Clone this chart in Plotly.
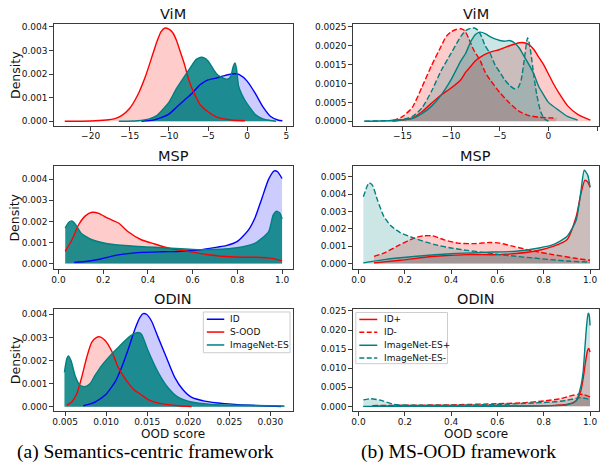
import plotly.graph_objects as go

# ---------------- data ----------------
# (a) Semantics-centric framework
vim_id_x = [-13.5, -12, -11, -10, -9, -8, -7, -6, -5, -4, -3, -2, -1.5, -1, 0, 1, 2, 3, 4, 4.5]
vim_id_y = [0, 0.00005, 0.00015, 0.0003, 0.0006, 0.0009, 0.0012, 0.00155, 0.00175, 0.00183, 0.00192,
            0.002, 0.00201, 0.00197, 0.0017, 0.0012, 0.00062, 0.0002, 0.00004, 0.00002]
vim_sood_x = [-23.3, -20, -18, -17, -16, -15, -14, -13, -12, -11.5, -11, -10.5, -10, -9.5, -9, -8.5, -8,
              -7.5, -7, -6.5, -6, -5, -4, -3, -2, -1, -0.3]
vim_sood_y = [0, 0.00001, 0.00005, 0.0001, 0.00025, 0.00055, 0.0011, 0.0019, 0.0029, 0.0034, 0.0038,
              0.00395, 0.0039, 0.00375, 0.0034, 0.0029, 0.0024, 0.0018, 0.00135, 0.001, 0.0007, 0.0004,
              0.0002, 0.0001, 0.00005, 0.00003, 0.00002]
vim_es_x = [-16.4, -14, -12.5, -11.5, -10.5, -10, -9, -8, -7, -6.5, -6, -5.8, -5.5, -5, -4.5, -4, -3.5,
            -3, -2.5, -2.1, -1.8, -1.55, -1.35, -1.1, -0.7, -0.3, 0.3, 1, 2, 3, 3.7]
vim_es_y = [0, 0.00002, 0.0001, 0.00025, 0.0006, 0.0008, 0.0014, 0.0019, 0.0024, 0.00262, 0.0027,
            0.00271, 0.00268, 0.00255, 0.0023, 0.00205, 0.0019, 0.00182, 0.00178, 0.0019, 0.0023,
            0.00247, 0.0022, 0.0015, 0.00115, 0.0009, 0.0006, 0.0003, 0.0001, 0.00003, 0]

msp_id_x = [0.07, 0.13, 0.19, 0.25, 0.31, 0.37, 0.46, 0.55, 0.64, 0.71, 0.75, 0.8, 0.85, 0.88, 0.91,
            0.94, 0.965, 0.98, 1.0]
msp_id_y = [0.00006, 0.00011, 0.00022, 0.00038, 0.00047, 0.00053, 0.00056, 0.00058, 0.00066, 0.00078,
            0.00085, 0.00105, 0.0016, 0.0022, 0.0031, 0.004, 0.00439, 0.00435, 0.00403]
msp_sood_x = [0.03, 0.06, 0.09, 0.12, 0.15, 0.18, 0.22, 0.27, 0.31, 0.37, 0.43, 0.49, 0.58, 0.67, 0.79,
              0.88, 0.94, 1.0]
msp_sood_y = [0.00058, 0.00113, 0.00184, 0.00226, 0.00243, 0.00238, 0.00215, 0.00191, 0.00152, 0.00113,
              0.00093, 0.00074, 0.00058, 0.00042, 0.00031, 0.0003, 0.00027, 0.00014]
msp_es_x = [0.03, 0.045, 0.06, 0.08, 0.1, 0.15, 0.22, 0.34, 0.49, 0.64, 0.79, 0.88, 0.94, 0.96, 0.975,
            0.99, 1.0]
msp_es_y = [0.00168, 0.00195, 0.00202, 0.0018, 0.00145, 0.00113, 0.00094, 0.00082, 0.00074, 0.00066,
            0.00074, 0.00097, 0.00152, 0.0023, 0.00248, 0.0024, 0.00212]

odin_id_x = [0.00722, 0.00864, 0.00985, 0.01107, 0.01188, 0.01269, 0.0135, 0.0141, 0.01451, 0.01491,
             0.01552, 0.01633, 0.01734, 0.01835, 0.01936, 0.02037, 0.02199, 0.02442, 0.02765, 0.0313]
odin_id_y = [0.00004, 0.0002, 0.00049, 0.00106, 0.0017, 0.00249, 0.00335, 0.00385, 0.00403, 0.004,
             0.00371, 0.003, 0.00213, 0.00127, 0.00073, 0.00041, 0.00024, 0.00013, 0.00006, 0.00001]
odin_sood_x = [0.0052, 0.00581, 0.00642, 0.00702, 0.00763, 0.00824, 0.00884, 0.00925, 0.00985, 0.01066,
               0.01147, 0.01248, 0.0135, 0.0141, 0.01511, 0.01673, 0.01875, 0.0204]
odin_sood_y = [0.00006, 0.0002, 0.00056, 0.00127, 0.00213, 0.00278, 0.003, 0.00302, 0.00288, 0.00242,
               0.0017, 0.00113, 0.0007, 0.00056, 0.00031, 0.00013, 0.00004, 0.00001]
odin_es_x = [0.00492, 0.0052, 0.0054, 0.00573, 0.00621, 0.00682, 0.00743, 0.00803, 0.00864, 0.00945,
             0.01046, 0.01147, 0.01248, 0.01329, 0.0139, 0.0143, 0.01511, 0.01633, 0.01754, 0.01875,
             0.02037, 0.0228, 0.02604, 0.0317]
odin_es_y = [0.00149, 0.00206, 0.0022, 0.00199, 0.00135, 0.00092, 0.00087, 0.00099, 0.00135, 0.00178,
             0.0022, 0.00256, 0.00292, 0.00314, 0.00321, 0.00314, 0.00242, 0.00149, 0.00082, 0.00041,
             0.0002, 0.0001, 0.00006, 0.00003]

# (b) MS-OOD framework
ms_vim_idp_x = [-16, -14, -13, -12, -11, -10, -9, -8.5, -8, -7.5, -7, -6, -5, -4, -3, -2.5, -2, -1.5, -1,
                -0.5, 0, 0.5, 1, 2, 3, 4, 4.3]
ms_vim_idp_y = [0, 0.00008, 0.00025, 0.00048, 0.0007, 0.00088, 0.0011, 0.0013, 0.00145, 0.0016, 0.0017,
                0.00183, 0.0019, 0.002, 0.00208, 0.00208, 0.00203, 0.0019, 0.0017, 0.0015, 0.00125, 0.001,
                0.00078, 0.0004, 0.00018, 0.00006, 0.00003]
ms_vim_idm_x = [-16, -15, -14, -13, -12, -11, -10.5, -10, -9.5, -9, -8.6, -8.2, -7.7, -7, -6.5, -6, -5,
                -4, -3, -2, -1, 0, 0.8]
ms_vim_idm_y = [0.00002, 0.00012, 0.00036, 0.0009, 0.00148, 0.002, 0.00225, 0.00237, 0.00243, 0.00245,
                0.0024, 0.0022, 0.0019, 0.0016, 0.0013, 0.0011, 0.00076, 0.00048, 0.00026, 0.00015,
                0.00011, 0.00009, 0.00008]
ms_vim_esp_x = [-18.9, -16, -14, -13, -12, -11, -10, -9, -8.5, -8, -7.5, -7, -6.5, -6, -5.5, -5, -4.5, -4,
                -3.5, -3, -2.5, -2, -1.5, -1, -0.5, 0, 1, 2, 3]
ms_vim_esp_y = [0, 0.00002, 0.00007, 0.0002, 0.0004, 0.0007, 0.0011, 0.0016, 0.0018, 0.0021, 0.0023,
                0.00236, 0.00232, 0.00224, 0.00218, 0.00214, 0.00212, 0.00214, 0.00208, 0.00194, 0.00172,
                0.0015, 0.00125, 0.00092, 0.0007, 0.0005, 0.0003, 0.00012, 0.00003]
ms_vim_esm_x = [-18.9, -16, -15, -14, -13, -12, -11, -10, -9, -8.5, -8, -7.6, -7.2, -6.8, -6.5, -6, -5.5,
                -5, -4.5, -4, -3.5, -3.1, -2.8, -2.5, -2.3, -2.15, -2.0, -1.8, -1.5, -1.2, -0.8, -0.4, 0]
ms_vim_esm_y = [0, 0.00002, 0.00005, 0.00012, 0.00035, 0.0008, 0.00135, 0.0018, 0.00225, 0.0024, 0.00246,
                0.00247, 0.0024, 0.0022, 0.002, 0.0018, 0.0015, 0.0013, 0.0011, 0.00095, 0.00086, 0.0009,
                0.0011, 0.0016, 0.002, 0.00221, 0.0021, 0.0018, 0.0012, 0.0007, 0.00025, 0.00006, 0]

ms_msp_idp_x = [0.067, 0.18, 0.33, 0.47, 0.61, 0.76, 0.84, 0.9, 0.94, 0.96, 0.978, 0.99, 1.0]
ms_msp_idp_y = [0.00004, 0.00019, 0.00042, 0.00052, 0.00052, 0.00071, 0.00099, 0.00137, 0.0027, 0.004,
                0.00481, 0.0047, 0.0044]
ms_msp_idm_x = [0.067, 0.11, 0.18, 0.24, 0.28, 0.32, 0.37, 0.43, 0.5, 0.57, 0.61, 0.67, 0.76, 0.84,
                0.93, 1.0]
ms_msp_idm_y = [0.00042, 0.00061, 0.00109, 0.00147, 0.0016, 0.0016, 0.00137, 0.00118, 0.00115, 0.00122,
                0.00118, 0.00099, 0.00071, 0.00052, 0.00032, 0.00019]
ms_msp_esp_x = [0.021, 0.11, 0.25, 0.4, 0.54, 0.68, 0.78, 0.84, 0.9, 0.94, 0.96, 0.975, 0.99, 1.0]
ms_msp_esp_y = [0.00004, 0.00023, 0.00042, 0.00057, 0.00065, 0.00071, 0.0009, 0.00109, 0.00156, 0.0025,
                0.0041, 0.00538, 0.0051, 0.0044]
ms_msp_esm_x = [0.021, 0.039, 0.046, 0.06, 0.082, 0.11, 0.14, 0.18, 0.24, 0.33, 0.4, 0.47, 0.54, 0.61,
                0.68, 0.76, 0.83, 0.9, 1.0]
ms_msp_esm_y = [0.00385, 0.00452, 0.00466, 0.00452, 0.00366, 0.00271, 0.00218, 0.00179, 0.00147,
                0.00109, 0.0009, 0.00076, 0.00065, 0.00052, 0.00042, 0.00032, 0.00023, 0.00015, 0.00008]

ms_odin_idp_x = [0.06, 0.3, 0.6, 0.83, 0.9, 0.94, 0.96, 0.97, 0.98, 0.99, 0.995, 1.0]
ms_odin_idp_y = [0.00002, 0.00003, 0.00008, 0.0002, 0.0005, 0.0015, 0.004, 0.0072, 0.0115, 0.0148,
                 0.0152, 0.0142]
ms_odin_idm_x = [0.06, 0.2, 0.4, 0.6, 0.7, 0.8, 0.87, 0.92, 0.95, 0.97, 1.0]
ms_odin_idm_y = [0.0002, 0.0003, 0.0004, 0.0007, 0.0009, 0.0014, 0.002, 0.0028, 0.0032, 0.0031, 0.0025]
ms_odin_esp_x = [0.02, 0.3, 0.6, 0.85, 0.9, 0.94, 0.96, 0.97, 0.978, 0.985, 0.992, 0.996, 1.0]
ms_odin_esp_y = [0.00001, 0.00002, 0.00005, 0.0002, 0.0004, 0.0015, 0.0052, 0.009, 0.0155, 0.021,
                 0.0244, 0.024, 0.0212]
ms_odin_esm_x = [0.021, 0.053, 0.096, 0.153, 0.225, 0.4, 0.6, 0.756, 0.85, 0.9, 0.957, 0.98, 1.0]
ms_odin_esm_y = [0.0017, 0.002, 0.0016, 0.0005, 0.0003, 0.0003, 0.0005, 0.0009, 0.0012, 0.0016, 0.0023,
                 0.0021, 0.0018]

titles = ["ViM", "MSP", "ODIN"]
legend_a = ["ID", "S-OOD", "ImageNet-ES"]
legend_b = ["ID+", "ID-", "ImageNet-ES+", "ImageNet-ES-"]
captions = ["(a) Semantics-centric framework", "(b) MS-OOD framework"]

# ---------------- styling / geometry ----------------
W, H = 600, 463
RED, BLUE, TEAL = "#ff0000", "#0000ff", "#008080"
F_RED, F_BLUE, F_TEAL = "rgba(255,0,0,0.2)", "rgba(0,0,255,0.2)", "rgba(0,128,128,0.2)"
F_TEAL_SOLID = "rgba(0,128,128,0.86)"
FONT = "DejaVu Sans"
DASH = "5.5px,2.4px"

cols = [(52, 292), (352, 599)]
rows = [(21, 124), (164, 268), (308, 411)]

def dom_x(c):
    return [cols[c][0] / W, cols[c][1] / W]

def dom_y(r):
    return [1 - rows[r][1] / H, 1 - rows[r][0] / H]

panels = [
    # (row, col, xrange, yrange, xticks, xfmt, yticks, yfmt, series)
    (0, 0, [-24.7, 5.86], [-0.00021, 0.004126], [-20, -15, -10, -5, 0, 5], None,
     [0, 0.001, 0.002, 0.003, 0.004], ".3f",
     [(vim_id_x, vim_id_y, BLUE, F_BLUE, None), (vim_sood_x, vim_sood_y, RED, F_RED, None),
      (vim_es_x, vim_es_y, TEAL, F_TEAL_SOLID, None)]),
    (0, 1, [-20.09, 5.188], [-0.000132, 0.00258], [-15, -10, -5, 0, 5], None,
     [0, 0.0005, 0.001, 0.0015, 0.002, 0.0025], ".4f",
     [(ms_vim_idp_x, ms_vim_idp_y, RED, F_RED, None), (ms_vim_idm_x, ms_vim_idm_y, RED, F_RED, DASH),
      (ms_vim_esp_x, ms_vim_esp_y, TEAL, F_TEAL, None), (ms_vim_esm_x, ms_vim_esm_y, TEAL, F_TEAL, DASH)]),
    (1, 0, [-0.021, 1.049], [-0.000268, 0.004626], [0, 0.2, 0.4, 0.6, 0.8, 1.0], ".1f",
     [0, 0.001, 0.002, 0.003, 0.004], ".3f",
     [(msp_id_x, msp_id_y, BLUE, F_BLUE, None), (msp_sood_x, msp_sood_y, RED, F_RED, None),
      (msp_es_x, msp_es_y, TEAL, F_TEAL_SOLID, None)]),
    (1, 1, [-0.0245, 1.0387], [-0.000326, 0.00563], [0, 0.2, 0.4, 0.6, 0.8, 1.0], ".1f",
     [0, 0.001, 0.002, 0.003, 0.004, 0.005], ".3f",
     [(ms_msp_idp_x, ms_msp_idp_y, RED, F_RED, None), (ms_msp_idm_x, ms_msp_idm_y, RED, F_RED, DASH),
      (ms_msp_esp_x, ms_msp_esp_y, TEAL, F_TEAL, None), (ms_msp_esm_x, ms_msp_esm_y, TEAL, F_TEAL, DASH)]),
    (2, 0, [0.003629, 0.032755], [-0.000202, 0.004228], [0.005, 0.01, 0.015, 0.02, 0.025, 0.03], ".3f",
     [0, 0.001, 0.002, 0.003, 0.004], ".3f",
     [(odin_id_x, odin_id_y, BLUE, F_BLUE, None), (odin_sood_x, odin_sood_y, RED, F_RED, None),
      (odin_es_x, odin_es_y, TEAL, F_TEAL_SOLID, None)]),
    (2, 1, [-0.0245, 1.0387], [-0.0013, 0.02552], [0, 0.2, 0.4, 0.6, 0.8, 1.0], ".1f",
     [0, 0.005, 0.01, 0.015, 0.02, 0.025], ".3f",
     [(ms_odin_idp_x, ms_odin_idp_y, RED, F_RED, None), (ms_odin_idm_x, ms_odin_idm_y, RED, F_RED, DASH),
      (ms_odin_esp_x, ms_odin_esp_y, TEAL, F_TEAL, None), (ms_odin_esm_x, ms_odin_esm_y, TEAL, F_TEAL, DASH)]),
]

fig = go.Figure()
layout = {}
annotations = []
shapes = []

for i, (r, c, xr, yr, xt, xf, yt, yf, series) in enumerate(panels):
    n = i + 1
    xa = "x" if n == 1 else f"x{n}"
    ya = "y" if n == 1 else f"y{n}"
    axis_common = dict(showgrid=False, zeroline=False, showline=True, mirror=True,
                       linecolor="#3a3a3a", linewidth=1, ticks="outside", ticklen=3.5,
                       tickwidth=0.8, tickcolor="#3a3a3a",
                       tickfont=dict(family=FONT, size=9, color="#111"))
    layout["xaxis" if n == 1 else f"xaxis{n}"] = dict(
        axis_common, domain=dom_x(c), range=xr, anchor=ya, tickmode="array", tickvals=xt,
        ticklabelstandoff=-2, **({"tickformat": xf} if xf else {}))
    layout["yaxis" if n == 1 else f"yaxis{n}"] = dict(
        axis_common, domain=dom_y(r), range=yr, anchor=xa, tickmode="array", tickvals=yt,
        tickformat=yf)
    # fills first
    for (sx, sy, lc, fc, dash) in series:
        fig.add_trace(go.Scatter(x=sx, y=sy, xaxis=xa, yaxis=ya, mode="lines",
                                 line=dict(width=0, color=lc, shape="spline", smoothing=0.6),
                                 fill="tozeroy", fillcolor=fc, showlegend=False, hoverinfo="skip"))
    # lines on top
    for (sx, sy, lc, fc, dash) in series:
        fig.add_trace(go.Scatter(x=sx, y=sy, xaxis=xa, yaxis=ya, mode="lines",
                                 line=dict(width=1.4, color=lc, dash=dash if dash else "solid",
                                           shape="spline", smoothing=0.6),
                                 showlegend=False))
    # panel title
    cx = (cols[c][0] + cols[c][1]) / 2 / W
    annotations.append(dict(text=titles[r], x=cx, y=1 - (rows[r][0] - 10) / H, xref="paper", yref="paper",
                            xanchor="center", yanchor="middle", showarrow=False,
                            font=dict(family=FONT, size=14.5, color="#111")))
    if c == 0:
        annotations.append(dict(text="Density", x=13 / W, y=1 - (rows[r][0] + rows[r][1]) / 2 / H,
                                xref="paper", yref="paper", xanchor="center", yanchor="middle",
                                textangle=-90, showarrow=False,
                                font=dict(family=FONT, size=12.5, color="#111")))
    if r == 2:
        annotations.append(dict(text="OOD score", x=cx, y=1 - 433.8 / H, xref="paper", yref="paper",
                                xanchor="center", yanchor="middle", showarrow=False,
                                font=dict(family=FONT, size=12, color="#111")))

# captions
annotations.append(dict(text=captions[0], x=144 / W, y=1 - 452 / H, xref="paper", yref="paper",
                        xanchor="center", yanchor="middle", showarrow=False,
                        font=dict(family="Liberation Serif", size=19.5, color="#000")))
annotations.append(dict(text=captions[1], x=458 / W, y=1 - 452 / H, xref="paper", yref="paper",
                        xanchor="center", yanchor="middle", showarrow=False,
                        font=dict(family="Liberation Serif", size=19.5, color="#000")))

# legends (drawn as a matplotlib-style box)
def add_legend(box, items, line_x0, line_x1, text_x, ys):
    x0, y0, x1, y1 = box
    shapes.append(dict(type="rect", xref="paper", yref="paper", x0=x0 / W, x1=x1 / W,
                       y0=1 - y1 / H, y1=1 - y0 / H, line=dict(color="#cccccc", width=1),
                       fillcolor="rgba(255,255,255,0.8)", layer="above"))
    for (label, color, dash), yy in zip(items, ys):
        shapes.append(dict(type="line", xref="paper", yref="paper", x0=line_x0 / W, x1=line_x1 / W,
                           y0=1 - yy / H, y1=1 - yy / H, layer="above",
                           line=dict(color=color, width=1.5, dash=dash if dash else "solid")))
        annotations.append(dict(text=label, x=text_x / W, y=1 - yy / H, xref="paper", yref="paper",
                                xanchor="left", yanchor="middle", showarrow=False,
                                font=dict(family=FONT, size=9, color="#111")))

add_legend((202, 311, 289, 352), [(legend_a[0], BLUE, None), (legend_a[1], RED, None),
                                  (legend_a[2], TEAL, None)],
           205.5, 223, 226.5, [318.3, 331.2, 344.2])
add_legend((355, 311.5, 447, 363), [(legend_b[0], RED, None), (legend_b[1], RED, "5px,2.4px"),
                                    (legend_b[2], TEAL, None), (legend_b[3], TEAL, "5px,2.4px")],
           358.5, 376.5, 381.5, [318.5, 331.5, 344.5, 357.3])

fig.update_layout(width=W, height=H, autosize=False, margin=dict(l=0, r=0, t=0, b=0),
                  paper_bgcolor="white", plot_bgcolor="white", showlegend=False,
                  annotations=annotations, shapes=shapes, **layout)

fig.write_html("out.html", config={"displayModeBar": False},
               post_script="document.body.style.margin='0px';document.body.style.overflow='hidden';")
